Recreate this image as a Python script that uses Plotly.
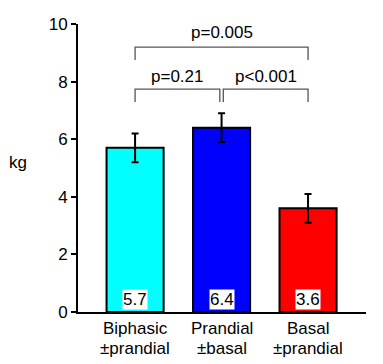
import plotly.graph_objects as go

categories = ["Biphasic<br>±prandial", "Prandial<br>±basal", "Basal<br>±prandial"]
values = [5.7, 6.4, 3.6]
errors = [0.5, 0.5, 0.5]
colors = ["#00FFFF", "#0000FF", "#FF0000"]
value_labels = ["5.7", "6.4", "3.6"]
yticks = [0, 2, 4, 6, 8, 10]

# brackets: (left index, right index, bar y, leg bottom y, text y, text)
brackets = [
    (0, 2, 9.2, 8.75, 9.69, "p=0.005"),
    (0, 0.98, 7.74, 7.29, 8.19, "p=0.21"),
    (1.02, 2, 7.74, 7.29, 8.19, "p<0.001"),
]

FONT = "Liberation Sans, Arial, sans-serif"
FS = 17
fig = go.Figure()
fig.add_trace(go.Bar(
    x=[0, 1, 2], y=values, width=0.66,
    marker=dict(color=colors, line=dict(color="black", width=2)),
    error_y=dict(type="data", array=errors, color="black", thickness=2, width=3.5),
))

shapes = []
annotations = []
for l, r, yb, yl, yt, txt in brackets:
    shapes.append(dict(type="path", xref="x", yref="y",
                       path=f"M {l} {yl} L {l} {yb} L {r} {yb} L {r} {yl}",
                       line=dict(color="#555555", width=1.3)))
    annotations.append(dict(x=(l + r) / 2, y=yt, xref="x", yref="y", text=txt,
                            showarrow=False, yanchor="middle",
                            font=dict(size=FS, color="black", family=FONT)))

for i, lab in enumerate(value_labels):
    annotations.append(dict(x=i, y=0.42, xref="x", yref="y", text=lab, showarrow=False,
                            yanchor="middle", bgcolor="white", borderpad=0,
                            font=dict(size=FS, color="black", family=FONT)))

for i, cat in enumerate(categories):
    l1, l2 = cat.split("<br>")
    annotations.append(dict(x=i, y=-16 / 288, xref="x", yref="paper", text=l1, showarrow=False,
                            yanchor="middle", font=dict(size=FS, color="black", family=FONT)))
    annotations.append(dict(x=i, y=-36 / 288, xref="x", yref="paper", text=l2, showarrow=False,
                            yanchor="middle", font=dict(size=FS, color="black", family=FONT)))

annotations.append(dict(x=-60 / 288, y=(312 - 162) / 288, xref="paper", yref="paper", text="kg",
                        showarrow=False, xanchor="center", yanchor="middle",
                        font=dict(size=FS, color="black", family=FONT)))

# page body has an 8px default margin, so the figure is shrunk and margins offset by 8px
fig.update_layout(
    width=375, height=356,
    margin=dict(l=70, r=17, t=16, b=52),
    plot_bgcolor="white", paper_bgcolor="white",
    showlegend=False,
    shapes=shapes, annotations=annotations,
    font=dict(family=FONT, size=FS, color="black"),
    xaxis=dict(range=[-0.66, 2.67], tickvals=[0, 1, 2], showticklabels=False,
               showline=True, linecolor="black", linewidth=2, ticks="", showgrid=False,
               zeroline=False, automargin=False),
    yaxis=dict(range=[0, 10], tickvals=yticks, showline=True, linecolor="black", linewidth=2,
               ticks="outside", ticklen=5, tickwidth=2, tickcolor="black", showgrid=False,
               zeroline=False, tickfont=dict(size=FS), automargin=False),
)
fig.write_html("out.html")
